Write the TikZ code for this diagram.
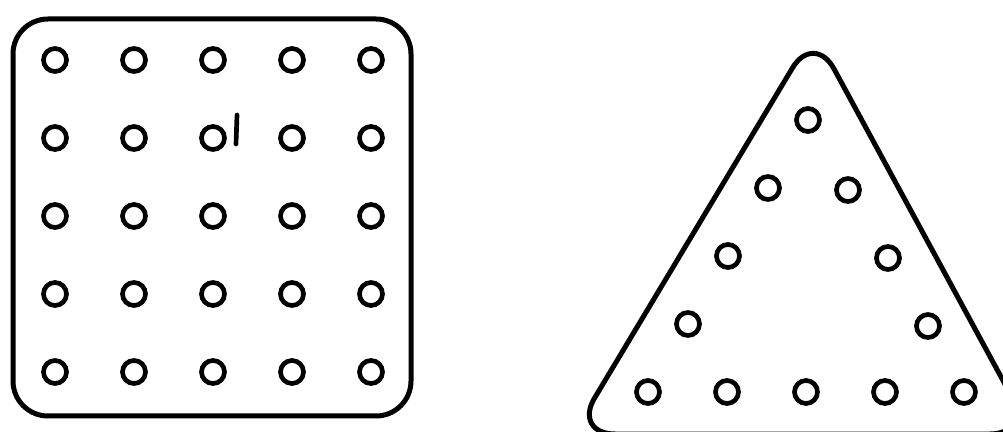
\documentclass[tikz,border=0pt]{standalone}
\usetikzlibrary{positioning}
\begin{document}
\begin{tikzpicture}[x=0.03cm,y=-0.03cm,
  hole/.style={draw,circle,line width=0.14cm,minimum size=0.69cm,inner sep=0pt},
  plate/.style={draw,line width=0.15cm,rounded corners=#1},
  plate/.default=1.05cm,
  tick/.style={line width=0.14cm,line cap=round}]
\useasboundingbox (0,0) rectangle (1003,432);
% square board, 5 by 5 holes
\draw[plate] (13,19) rectangle (411,416);
\foreach \i in {0,...,4}
  \foreach \j in {0,...,4}
    \node[hole] (sq-\i-\j) at ({55+79*\i},{60+78*\j}) {};
\draw[tick] (237,115) -- (236,144);
% triangular board, holes along the edges
\draw[plate=1.26cm] (814,32) -- (1032,434) -- (573,434) -- cycle;
\node[hole] (tri-top) at (808,120) {};
\foreach \k in {1,2,3}{
  \node[hole] (tri-\k-l) at ({808-40*\k},{120+68*\k}) {};
  \node[hole] (tri-\k-r) at ({808+40*\k},{122+68*\k}) {};}
\foreach \i in {0,...,4}
  \node[hole] (tri-base-\i) at ({648+79*\i},392) {};
\end{tikzpicture}
\end{document}
